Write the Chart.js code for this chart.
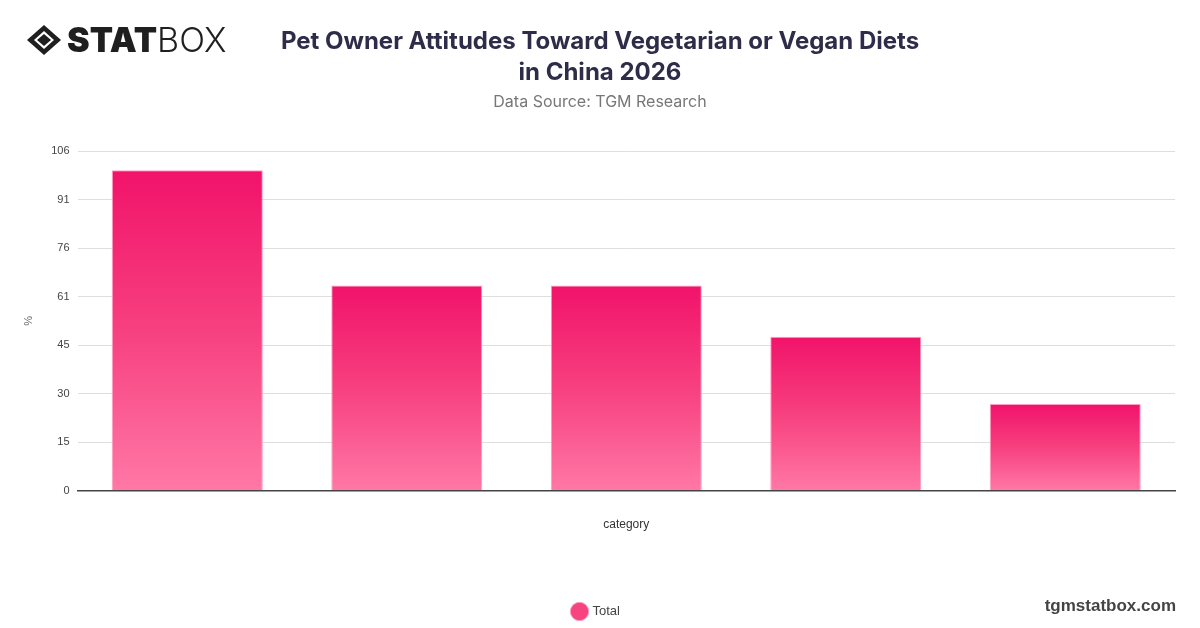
<!DOCTYPE html>
<html>
<head>
<meta charset="utf-8">
<script src="https://cdn.jsdelivr.net/npm/chart.js@4.4.1/dist/chart.umd.min.js"></script>
<style>
  html, body { margin: 0; padding: 0; background: #fff; }
  body { width: 1200px; height: 628px; position: relative; overflow: hidden; font-family: Inter, "Liberation Sans", sans-serif; }
  #wrap { position: absolute; left: 0; top: 0; width: 1200px; height: 628px; }
  #logo { position: absolute; left: 26px; top: 23px; display: flex; align-items: center; }
  #logo .t1 { font-family: Inter, Lato, sans-serif; font-weight: 900; font-size: 34px; color: #1f1f1f; letter-spacing: 0px; margin-left: 5px; line-height: 34px; }
  #logo .t2 { font-family: Inter, Lato, sans-serif; font-weight: 300; font-size: 34px; color: #1f1f1f; line-height: 34px; }
  #title { position: absolute; left: 200px; width: 800px; top: 25px; text-align: center; font-family: Inter, sans-serif; font-weight: 700; font-size: 24px; line-height: 31px; color: #2e2c48; }
  #sub { position: absolute; left: 200px; width: 800px; top: 91px; text-align: center; font-family: Inter, sans-serif; font-size: 16px; color: #777; }
  #site { position: absolute; right: 24px; top: 596px; font-family: "Liberation Sans", Arial, sans-serif; font-weight: 700; font-size: 17px; color: #444; }
</style>
</head>
<body>
<div id="wrap"><canvas id="c" width="1200" height="628" style="width:1200px;height:628px"></canvas></div>
<div id="logo">
  <svg width="36" height="32" viewBox="0 0 36 32">
    <polygon points="18,1 35,16 18,31 1,16" fill="#1f1f1f"/>
    <polygon points="18,7 28,16 18,25 8,16" fill="#fff"/>
    <polygon points="18,10 25,16 18,22 11,16" fill="#1f1f1f"/>
  </svg>
  <span class="t1">STAT</span><span class="t2">BOX</span>
</div>
<div id="title">Pet Owner Attitudes Toward Vegetarian or Vegan Diets<br>in China 2026</div>
<div id="sub">Data Source: TGM Research</div>
<div id="site">tgmstatbox.com</div>
<script>
const categories = ["", "", "", "", ""];
const totalValues = [100, 64, 64, 48, 27];
const yMax = 106;
const yTickCount = 7;

const ctx = document.getElementById('c');
function barGradient(c) {
  const chart = c.chart;
  const area = chart.chartArea;
  if (!area || c.dataIndex === undefined) return '#f5427f';
  const ys = chart.scales.y;
  const v = c.dataset.data[c.dataIndex];
  const top = ys.getPixelForValue(v);
  const bot = ys.getPixelForValue(0);
  const g = chart.ctx.createLinearGradient(0, top, 0, bot);
  g.addColorStop(0, '#f1136a');
  g.addColorStop(0.5, '#f7407f');
  g.addColorStop(1, '#ff78a6');
  return g;
}
new Chart(ctx, {
  type: 'bar',
  data: {
    labels: categories,
    datasets: [{
      label: 'Total',
      data: totalValues,
      backgroundColor: barGradient,
      borderColor: '#ff9dc0',
      borderWidth: 1,
      categoryPercentage: 0.8,
      barPercentage: 0.86
    }]
  },
  options: {
    responsive: false,
    maintainAspectRatio: false,
    animation: false,
    devicePixelRatio: 1,
    layout: { padding: { top: 151, left: 18, right: 25, bottom: 0 } },
    plugins: {
      legend: {
        position: 'bottom',
        labels: {
          usePointStyle: true,
          pointStyle: 'circle',
          boxWidth: 14,
          boxHeight: 14,
          color: '#444',
          font: { family: 'Liberation Sans', size: 13 },
          generateLabels: (chart) => [{
            text: 'Total',
            fillStyle: '#f5447f',
            strokeStyle: '#ff9dc0',
            lineWidth: 1,
            pointStyle: 'circle',
            datasetIndex: 0,
            fontColor: '#444'
          }]
        }
      },
      tooltip: { enabled: false }
    },
    scales: {
      x: {
        grid: { display: false, drawTicks: false },
        border: { display: true, color: '#444', width: 1.5 },
        ticks: { display: false },
        title: { display: true, text: 'category', color: '#333', font: { family: 'Liberation Sans', size: 12 }, padding: { top: 27, bottom: 63 } }
      },
      y: {
        min: 0,
        max: yMax,
        border: { display: false },
        grid: { color: '#dedede', lineWidth: 1, drawTicks: false },
        ticks: {
          stepSize: yMax / yTickCount,
          color: '#444',
          padding: 8,
          font: { family: 'Liberation Sans', size: 11 },
          callback: (v) => Math.round(v)
        },
        title: { display: true, text: '%', color: '#666', font: { family: 'Liberation Sans', size: 11 }, padding: { bottom: 8 } }
      }
    }
  }
});
</script>
</body>
</html>
